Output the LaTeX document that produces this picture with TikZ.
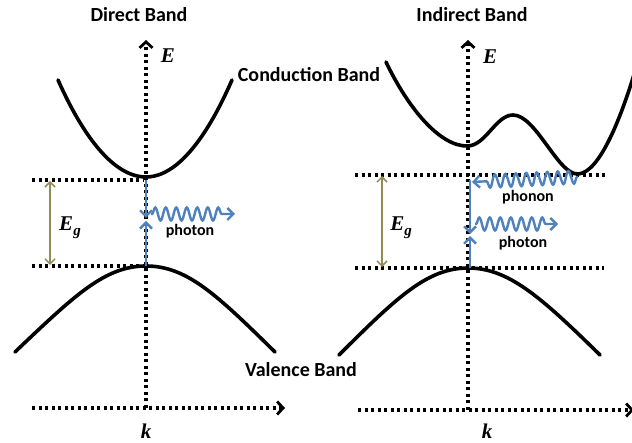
\documentclass[tikz,border=0pt]{standalone}
\usepackage{fontspec}
\setmainfont{Carlito}
\newfontfamily\tnr{Liberation Serif}
\usetikzlibrary{arrows.meta,decorations.pathmorphing}
\definecolor{bluec}{RGB}{79,129,189}
\definecolor{olivec}{RGB}{148,138,84}
\begin{document}
\begin{tikzpicture}[x=1pt,y=-1pt,
  band/.style={line width=3.6pt, line cap=round},
  dotline/.style={line width=3.6pt, dash pattern=on 3.3pt off 3.2pt},
  axisline/.style={dotline, -{Straight Barb[length=6pt,width=13pt,line width=2.8pt]}},
  trans/.style={bluec, line width=2.6pt, -{Straight Barb[length=6pt,width=12pt,line width=2.4pt]}},
  wave/.style={bluec, line width=2.4pt, -{Straight Barb[length=6pt,width=12pt,line width=2.4pt]},
     decorate, decoration={snake, segment length=10.5pt, amplitude=6.5pt, pre length=1pt, post length=10pt}},
  gap/.style={olivec, line width=1.5pt, {Straight Barb[length=5pt,width=10pt]}-{Straight Barb[length=5pt,width=10pt]}},
  title/.style={font=\fontsize{20}{22}\selectfont\bfseries, inner sep=0pt},
  small/.style={font=\fontsize{16}{18}\selectfont\bfseries, inner sep=0pt},
  sym/.style={font=\fontsize{21}{23}\selectfont\tnr\bfseries\itshape, inner sep=0pt}]
\useasboundingbox (0,0) rectangle (632,443);

% ---------------- Direct band ----------------
\node[title] (t1) at (139,15) {Direct Band};
\coordinate (e1b) at (146,408);
\coordinate (e1t) at (146,40);
\draw[axisline] (e1b) -- (e1t);
\node[sym] (E1) at (168,56) {E};
\coordinate (k1a) at (32,408);
\coordinate (k1b) at (285,408);
\draw[axisline] (k1a) -- (k1b);
\node[sym] (k1) at (146,431) {k};

\draw[band] (58,80) parabola bend (146,177) (232,80);
\draw[band] (15,352) .. controls (75,295) and (105,266) .. (146,266) .. controls (187,266) and (217,295) .. (275,352);

\coordinate (c1l) at (32,180);
\coordinate (c1r) at (143,180);
\coordinate (v1l) at (32,266);
\coordinate (v1r) at (143,266);
\draw[dotline] (c1l) -- (c1r);
\draw[dotline] (v1l) -- (v1r);

\coordinate (g1t) at (50,181);
\coordinate (g1b) at (50,265);
\draw[gap] (g1t) -- (g1b);
\node[sym] (Eg1) at (70,228) {E\raisebox{-5pt}{\fontsize{15}{16}\selectfont g}};

\coordinate (a1t) at (146,180);
\coordinate (a1m) at (146,218);
\coordinate (a1n) at (146,221);
\coordinate (a1b) at (146,266);
\draw[trans] (a1t) -- (a1m);
\draw[trans] (a1b) -- (a1n);
\coordinate (w1s) at (151,214);
\coordinate (w1e) at (235,214);
\draw[wave] (w1s) -- (w1e);
\node[small] (ph1) at (190,231) {photon};

\node[title] (cb) at (309,75) {Conduction Band};
\node[title] (vb) at (301,370) {Valence Band};

% ---------------- Indirect band ----------------
\node[title] (t2) at (472,15) {Indirect Band};
\coordinate (e2b) at (468,410);
\coordinate (e2t) at (468,40);
\draw[axisline] (e2b) -- (e2t);
\node[sym] (E2) at (490,57) {E};
\coordinate (k2a) at (358,410);
\coordinate (k2b) at (634,410);
\draw[axisline] (k2a) -- (k2b);
\node[sym] (k2) at (487,431) {k};

\draw[band] (386,62) .. controls (408,108) and (440,147) .. (468,146)
  .. controls (486,145) and (496,115) .. (513,115)
  .. controls (536,115) and (558,175) .. (578,174)
  .. controls (600,173) and (622,115) .. (636,68);
\draw[band] (339,355) .. controls (398,296) and (428,268) .. (468,268) .. controls (508,268) and (540,296) .. (600,355);

\coordinate (c2l) at (355,175);
\coordinate (c2r) at (606,175);
\coordinate (v2l) at (355,268);
\coordinate (v2r) at (604,268);
\draw[dotline] (c2l) -- (c2r);
\draw[dotline] (v2l) -- (v2r);

\coordinate (g2t) at (382,176);
\coordinate (g2b) at (382,267);
\draw[gap] (g2t) -- (g2b);
\node[sym] (Eg2) at (401,228) {E\raisebox{-5pt}{\fontsize{15}{16}\selectfont g}};

\coordinate (a2t) at (470,180);
\coordinate (a2m) at (470,234);
\coordinate (a2n) at (470,236);
\coordinate (a2b) at (470,268);
\draw[trans] (a2t) -- (a2m);
\draw[trans] (a2b) -- (a2n);
\coordinate (p2s) at (578,177);
\coordinate (p2e) at (472,182);
\draw[wave] (p2s) -- (p2e);
\node[small] (pn2) at (528,197) {phonon};
\coordinate (w2s) at (475,224);
\coordinate (w2e) at (558,224);
\draw[wave] (w2s) -- (w2e);
\node[small] (ph2) at (523,243) {photon};
\end{tikzpicture}
\end{document}
